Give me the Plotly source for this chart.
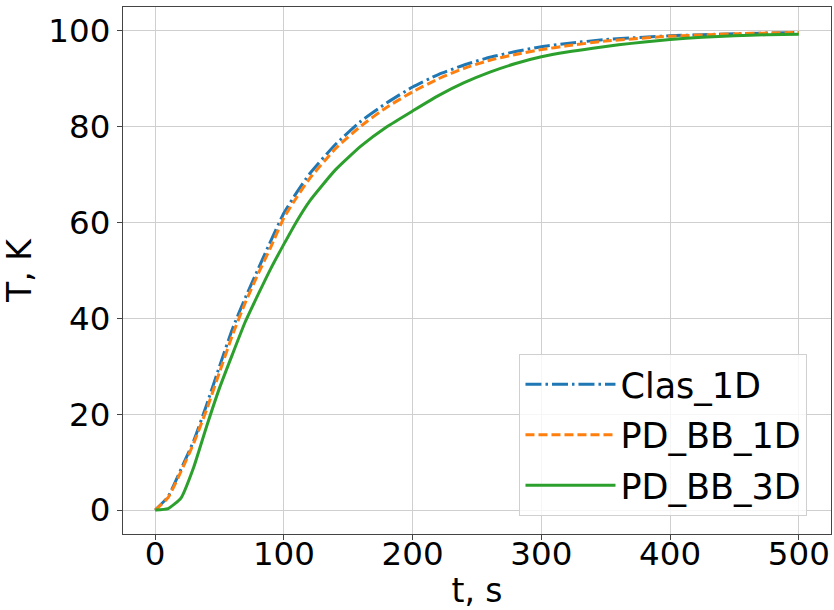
import plotly.graph_objects as go

# Clas_1D
t_clas = [0, 10, 20, 30, 40, 50, 60, 70, 80, 90, 100, 110, 120, 140, 160, 180, 200,
          220, 240, 260, 280, 300, 320, 350, 400, 450, 500]
T_clas = [0, 2.8, 8.5, 14.5, 22, 30, 37.8, 44.3, 50.3, 56.3, 62, 66.3, 70.2, 76.3, 81.2,
          85, 88.3, 90.9, 92.9, 94.5, 95.7, 96.7, 97.4, 98.2, 99.0, 99.4, 99.7]

# PD_BB_1D
t_pd1 = [0, 10, 20, 30, 40, 50, 60, 70, 80, 90, 100, 110, 120, 140, 160, 180, 200,
         220, 240, 260, 280, 300, 320, 350, 400, 450, 500]
T_pd1 = [0, 2.6, 8, 14, 21, 28.8, 36.5, 43.3, 49.3, 55, 61, 65.3, 69.2, 75.4, 80.2,
         84.1, 87.3, 90, 92.2, 93.9, 95.1, 96.1, 96.9, 97.9, 98.9, 99.4, 99.7]

# PD_BB_3D
t_pd3 = [0, 10, 20, 30, 40, 50, 60, 70, 80, 90, 100, 110, 120, 140, 160, 180, 200,
         220, 240, 260, 280, 300, 320, 340, 360, 380, 400, 425, 450, 475, 500]
T_pd3 = [0, 0.3, 2.5, 9, 17.5, 25.5, 32.5, 39.3, 45, 50.5, 55.5, 60.3, 64.5, 71, 76,
         80, 83.3, 86.5, 89.2, 91.4, 93.2, 94.6, 95.6, 96.4, 97.1, 97.7, 98.2, 98.7, 99.0,
         99.2, 99.3]

x_ticks = [0, 100, 200, 300, 400, 500]
y_ticks = [0, 20, 40, 60, 80, 100]

FONT = "DejaVu Sans"

fig = go.Figure()
fig.add_trace(go.Scatter(x=t_clas, y=T_clas, mode="lines", name="Clas_1D", legendgroup="a",
                         line=dict(color="#1f77b4", width=3, dash="16px,4px,2.5px,4px",
                                   shape="spline", smoothing=0.5)))
fig.add_trace(go.Scatter(x=t_pd1, y=T_pd1, mode="lines", name="PD_BB_1D", legendgroup="b",
                         line=dict(color="#ff7f0e", width=3, dash="9px,4px",
                                   shape="spline", smoothing=0.5)))
fig.add_trace(go.Scatter(x=t_pd3, y=T_pd3, mode="lines", name="PD_BB_3D", legendgroup="c",
                         line=dict(color="#2ca02c", width=3, shape="spline", smoothing=0.5)))

axis_common = dict(showline=True, linecolor="#444444", linewidth=1.2, mirror=True,
                   showgrid=True, gridcolor="#cfcfcf", gridwidth=1,
                   ticks="outside", ticklen=5, tickcolor="#444444",
                   tickfont=dict(family=FONT, size=32.5, color="black"),
                   zeroline=False, automargin=False)

fig.update_layout(
    width=834, height=610,
    margin=dict(l=123, r=3, t=7, b=76),
    paper_bgcolor="white", plot_bgcolor="white",
    font=dict(family=FONT, color="black"),
    xaxis=dict(range=[-25, 525], tickvals=x_ticks, ticklabelstandoff=-14,
               title=dict(text="t, s", font=dict(family=FONT, size=33), standoff=10),
               **axis_common),
    yaxis=dict(range=[-5, 105], tickvals=y_ticks,
               title=dict(text="T, K", font=dict(family=FONT, size=33), standoff=6),
               **axis_common),
    legend=dict(x=0.56, y=0.034, xanchor="left", yanchor="bottom",
                bgcolor="rgba(255,255,255,0.8)", bordercolor="#d0d0d0", borderwidth=1,
                font=dict(family=FONT, size=35, color="black"),
                traceorder="grouped", tracegroupgap=2, itemwidth=90),
    showlegend=True,
)

fig.write_html("out.html", config={"displayModeBar": False},
               post_script="document.body.style.margin='0';document.body.style.overflow='hidden';")
